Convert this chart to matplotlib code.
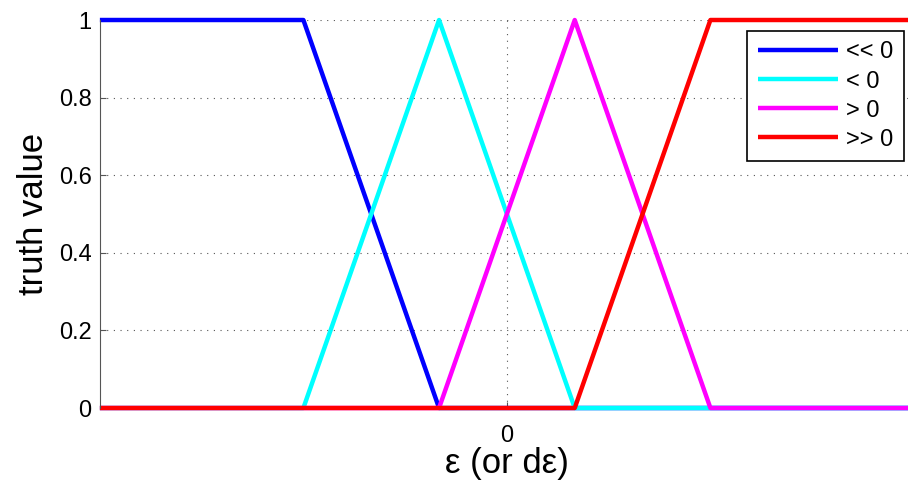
import matplotlib
matplotlib.use('Agg')
import matplotlib.pyplot as plt

# membership functions, x in units of epsilon
x_much_neg = [-3, -1.5, -0.5, 3]
y_much_neg = [1, 1, 0, 0]
x_neg = [-3, -1.5, -0.5, 0.5, 3]
y_neg = [0, 0, 1, 0, 0]
x_pos = [-3, -0.5, 0.5, 1.5, 3]
y_pos = [0, 0, 1, 0, 0]
x_much_pos = [-3, 0.5, 1.5, 3]
y_much_pos = [0, 0, 1, 1]

labels = ['<< 0', '< 0', '> 0', '>> 0']
colors = ['#0000ff', '#00ffff', '#ff00ff', '#ff0000']
series = [(x_much_neg, y_much_neg), (x_neg, y_neg), (x_pos, y_pos), (x_much_pos, y_much_pos)]

plt.rcParams['font.family'] = ['Liberation Sans', 'DejaVu Sans']

fig = plt.figure(figsize=(9.08, 4.82), dpi=100)
# axes run a little past the right edge of the image, like the original
ax = fig.add_axes([0.110, 0.1535, 0.8965, 0.805])

for (xs, ys), c, lab in zip(series, colors, labels):
    ax.plot(xs, ys, color=c, linewidth=3.2, label=lab, solid_capstyle='butt', clip_on=False)

ax.set_xlim(-3, 3)
ax.set_ylim(0, 1)
ax.set_xticks([0])
ax.set_yticks([0, 0.2, 0.4, 0.6, 0.8, 1])
ax.set_yticklabels(['0', '0.2', '0.4', '0.6', '0.8', '1'])
ax.tick_params(labelsize=17, length=4, color='#555555', direction='in')
ax.tick_params(axis='x', pad=12)
ax.tick_params(axis='y', pad=6)
ax.grid(True, linestyle=(0, (1, 5)), color='#555555', linewidth=0.8)

for side in ['top', 'right', 'bottom']:
    ax.spines[side].set_visible(False)
ax.spines['left'].set_color('#555555')

ax.set_xlabel('ε (or dε)', fontsize=25, labelpad=0)
ax.set_ylabel('truth value', fontsize=25, labelpad=6)

leg = ax.legend(loc='upper right', fontsize=17, fancybox=False, framealpha=1,
                edgecolor='black', handlelength=3.4, borderpad=0.45,
                labelspacing=0.3, handletextpad=0.35, borderaxespad=0,
                bbox_to_anchor=(0.988, 0.972))
leg.get_frame().set_linewidth(1.2)

fig.savefig('out.png', dpi=100)
